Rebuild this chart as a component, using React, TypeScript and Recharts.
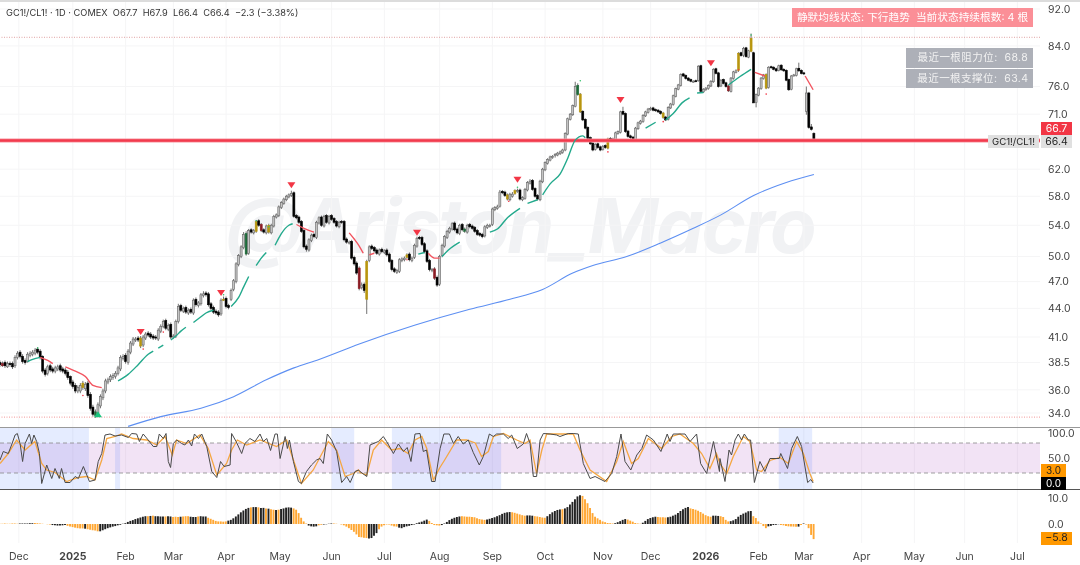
import React from "react";
import {
  Bar,
  CartesianGrid,
  Cell,
  ComposedChart,
  Line,
  ReferenceArea,
  ReferenceLine,
  XAxis,
  YAxis,
} from "recharts";

const closes = [
  38.3, 38.4, 38.2, 38.4, 38.3, 38.1, 39.0, 39.4, 39.1, 38.6,
  38.5, 39.3, 39.4, 39.5, 39.7, 39.5, 39.0, 37.7, 37.4, 38.1,
  37.8, 37.7, 38.0, 38.1, 37.8, 37.7, 37.5, 37.1, 36.6, 36.3,
  35.9, 36.2, 36.4, 36.2, 36.5, 35.5, 34.4, 33.9, 34.1, 34.7,
  35.4, 35.9, 36.8, 36.9, 37.2, 37.3, 37.5, 38.0, 39.0, 39.1,
  38.6, 39.6, 40.4, 40.8, 40.8, 40.7, 40.1, 41.0, 41.3, 41.2,
  41.0, 40.9, 40.9, 41.7, 42.1, 42.6, 41.9, 42.2, 41.0, 41.1,
  42.6, 44.2, 43.8, 44.0, 43.6, 43.8, 43.6, 44.9, 44.4, 44.6,
  45.5, 45.6, 45.5, 44.4, 44.0, 43.6, 43.5, 43.3, 44.9, 45.0,
  44.2, 44.1, 46.0, 47.1, 49.1, 50.1, 51.2, 52.8, 50.3, 53.3,
  53.1, 53.3, 54.5, 54.0, 53.3, 53.1, 53.9, 53.1, 54.0, 55.2,
  55.4, 56.5, 57.1, 57.6, 58.0, 58.2, 58.4, 55.2, 55.0, 54.4,
  53.2, 51.2, 50.9, 52.1, 52.7, 52.5, 54.4, 55.0, 54.0, 55.2,
  54.4, 55.2, 54.8, 54.4, 53.9, 54.4, 54.4, 52.1, 51.8, 51.8,
  49.8, 49.1, 48.0, 46.2, 46.6, 46.0, 49.4, 51.2, 51.0, 50.7,
  50.4, 50.8, 50.6, 50.7, 50.2, 49.4, 48.4, 48.2, 48.3, 49.6,
  49.7, 49.8, 50.2, 49.6, 49.8, 51.4, 52.3, 52.3, 51.5, 50.6,
  49.4, 48.4, 48.4, 47.4, 46.6, 50.0, 51.4, 52.5, 53.2, 53.6,
  54.2, 53.4, 53.0, 54.0, 53.4, 53.2, 54.0, 53.8, 53.6, 53.2,
  52.8, 52.7, 52.5, 53.8, 54.0, 54.0, 56.2, 56.4, 56.5, 58.6,
  58.5, 58.1, 57.6, 58.3, 58.3, 58.8, 58.8, 57.6, 57.8, 59.0,
  60.0, 60.2, 59.0, 58.0, 57.6, 60.2, 62.0, 63.0, 63.5, 63.9,
  64.0, 64.3, 64.5, 64.7, 65.0, 67.7, 70.2, 71.0, 72.5, 76.0,
  74.5, 71.4, 70.0, 68.6, 66.9, 66.0, 65.0, 65.9, 65.4, 65.0,
  65.6, 65.4, 66.8, 66.6, 66.8, 67.8, 68.0, 71.4, 71.0, 68.0,
  67.2, 67.0, 66.8, 68.6, 69.5, 69.8, 70.8, 71.4, 71.9, 72.0,
  71.7, 71.6, 71.4, 71.1, 70.4, 70.0, 72.2, 72.8, 74.3, 75.6,
  76.3, 78.3, 78.0, 77.5, 77.2, 77.0, 77.0, 77.0, 79.9, 75.1,
  75.5, 75.7, 76.2, 77.0, 79.3, 78.5, 76.0, 77.2, 76.6, 76.0,
  75.2, 77.6, 78.8, 79.0, 82.5, 82.0, 83.5, 81.8, 83.0, 85.6,
  73.0, 74.5, 75.7, 77.6, 78.2, 75.7, 79.7, 79.6, 79.3, 79.0,
  80.0, 79.2, 79.0, 77.2, 75.4, 78.0, 78.2, 79.4, 79.0, 78.5,
  78.4, 74.8, 68.7, 68.4, 66.4,
];
const opens = [
  38.5, 38.2, 38.5, 38.1, 38.4, 38.4, 38.2, 39.0, 39.5, 39.1,
  38.7, 38.6, 39.2, 39.3, 39.4, 39.8, 39.6, 39.1, 37.8, 37.5,
  38.2, 37.9, 37.7, 37.9, 38.2, 37.9, 37.8, 37.6, 37.2, 36.7,
  36.4, 35.9, 35.9, 36.6, 36.1, 36.6, 35.6, 34.5, 33.8, 34.0,
  34.6, 35.3, 35.9, 36.7, 36.9, 37.1, 37.2, 37.5, 37.9, 38.9,
  39.2, 38.5, 39.5, 40.3, 40.7, 40.9, 40.9, 40.2, 40.9, 41.4,
  41.3, 41.1, 41.0, 40.8, 41.6, 42.1, 42.7, 41.8, 42.3, 41.0,
  41.1, 42.6, 44.3, 43.7, 44.1, 43.5, 43.9, 43.5, 45.0, 44.3,
  44.5, 45.4, 45.7, 45.6, 44.5, 44.1, 43.7, 43.6, 43.4, 45.0,
  45.1, 44.3, 45.0, 46.1, 47.0, 49.0, 50.0, 51.1, 52.9, 50.4,
  53.4, 53.0, 53.2, 54.6, 54.1, 53.4, 53.0, 54.0, 53.0, 53.9,
  55.1, 55.3, 56.4, 57.0, 57.5, 57.9, 58.1, 58.5, 55.3, 55.1,
  54.5, 53.3, 51.3, 50.8, 52.0, 52.8, 52.4, 54.3, 55.1, 53.9,
  55.3, 54.3, 55.3, 54.9, 54.5, 53.8, 54.5, 54.5, 52.2, 51.7,
  51.9, 49.9, 49.2, 48.6, 46.3, 46.7, 45.0, 49.5, 51.3, 51.1,
  50.8, 50.3, 50.9, 50.5, 50.8, 50.3, 49.5, 48.5, 48.1, 48.2,
  49.5, 49.6, 49.9, 50.3, 49.5, 49.9, 51.3, 52.4, 52.4, 51.6,
  50.7, 49.5, 48.3, 48.5, 47.5, 46.7, 50.1, 51.3, 52.4, 53.1,
  53.5, 54.3, 53.5, 52.9, 54.1, 53.5, 53.1, 54.1, 53.9, 53.7,
  53.3, 52.9, 52.8, 52.6, 53.7, 53.9, 54.1, 56.1, 56.3, 56.6,
  58.7, 58.6, 58.2, 57.5, 58.0, 58.4, 58.7, 58.9, 57.5, 57.7,
  58.9, 59.9, 60.3, 59.1, 58.1, 57.5, 60.1, 61.9, 62.9, 63.4,
  63.8, 64.1, 64.2, 64.4, 64.6, 65.0, 67.6, 70.1, 70.9, 72.4,
  76.2, 74.6, 71.5, 70.1, 68.7, 67.0, 66.1, 65.1, 66.0, 65.5,
  65.1, 65.7, 65.3, 66.9, 66.5, 66.7, 67.7, 67.9, 71.5, 71.1,
  68.1, 67.3, 67.1, 66.7, 68.5, 69.4, 69.7, 70.7, 71.3, 71.8,
  72.1, 71.8, 71.7, 71.5, 71.2, 70.5, 70.1, 72.1, 72.7, 74.2,
  75.5, 76.2, 78.4, 78.1, 77.6, 77.3, 76.9, 77.1, 77.1, 80.0,
  75.0, 75.4, 75.6, 76.1, 76.9, 79.4, 78.6, 76.1, 77.3, 76.7,
  76.1, 75.1, 77.5, 78.7, 79.1, 82.6, 82.1, 83.6, 81.7, 82.9,
  82.6, 73.1, 74.4, 75.6, 77.5, 78.3, 75.8, 79.8, 79.7, 79.4,
  79.1, 80.1, 79.3, 79.1, 77.3, 75.5, 78.1, 78.1, 79.5, 79.1,
  78.6, 71.5, 74.8, 68.8, 67.7,
];
const highs = [
  38.7, 38.6, 38.7, 38.6, 38.6, 38.6, 39.2, 39.6, 39.7, 39.3,
  38.9, 39.5, 39.6, 39.7, 39.9, 40.0, 39.8, 39.2, 38.0, 38.3,
  38.4, 38.1, 38.2, 38.3, 38.4, 38.1, 38.0, 37.8, 37.3, 36.9,
  36.6, 36.4, 36.6, 36.8, 36.7, 36.8, 35.8, 34.7, 34.3, 34.9,
  35.6, 36.1, 37.0, 37.1, 37.4, 37.5, 37.7, 38.2, 39.2, 39.3,
  39.4, 39.8, 40.6, 41.0, 41.0, 41.1, 41.1, 41.2, 41.5, 41.6,
  41.5, 41.3, 41.2, 41.9, 42.3, 42.8, 42.9, 42.4, 42.5, 41.3,
  42.8, 44.5, 44.5, 44.2, 44.3, 44.0, 44.1, 45.1, 45.2, 44.8,
  45.7, 45.9, 45.9, 45.8, 44.7, 44.3, 43.9, 43.8, 45.1, 45.3,
  45.3, 44.5, 46.2, 47.3, 49.3, 50.3, 51.4, 53.1, 53.2, 53.5,
  53.6, 53.5, 54.7, 54.8, 54.3, 53.6, 54.1, 54.2, 54.2, 55.4,
  55.6, 56.7, 57.3, 57.8, 58.2, 58.4, 58.8, 58.7, 55.5, 55.3,
  54.7, 53.5, 51.5, 52.3, 52.9, 53.0, 54.6, 55.2, 55.3, 55.4,
  55.5, 55.4, 55.5, 55.1, 54.7, 54.6, 54.7, 54.7, 52.4, 52.0,
  52.1, 50.1, 49.4, 48.8, 46.9, 46.9, 49.6, 51.4, 51.5, 51.3,
  51.0, 51.0, 51.1, 50.9, 51.0, 50.5, 49.7, 48.7, 48.5, 49.8,
  49.9, 50.0, 50.4, 50.5, 50.0, 51.6, 52.5, 52.6, 52.6, 51.8,
  50.9, 49.7, 48.6, 48.7, 47.7, 50.2, 51.6, 52.7, 53.4, 53.8,
  54.4, 54.5, 53.7, 54.2, 54.3, 53.7, 54.2, 54.3, 54.1, 53.9,
  53.5, 53.1, 53.0, 54.0, 54.2, 54.2, 56.4, 56.6, 56.8, 58.9,
  58.9, 58.8, 58.4, 58.5, 58.6, 59.0, 59.1, 59.1, 58.0, 59.2,
  60.2, 60.5, 60.5, 59.3, 58.3, 60.4, 62.2, 63.2, 63.7, 64.1,
  64.2, 64.5, 64.7, 64.9, 65.2, 67.9, 70.4, 71.2, 72.7, 76.9,
  76.6, 74.8, 71.7, 70.3, 68.9, 67.2, 66.3, 66.1, 66.2, 65.7,
  65.8, 65.9, 67.0, 67.1, 67.0, 68.0, 68.2, 71.6, 72.3, 71.3,
  68.3, 67.5, 67.3, 68.8, 69.7, 70.0, 71.0, 71.6, 72.1, 72.3,
  72.3, 72.0, 71.9, 71.7, 71.4, 70.7, 72.4, 73.0, 74.5, 75.8,
  76.5, 78.5, 78.6, 78.3, 77.8, 77.5, 77.2, 77.3, 80.1, 80.2,
  75.7, 75.9, 76.4, 77.2, 79.5, 79.6, 78.8, 77.4, 77.5, 76.9,
  76.3, 77.8, 79.0, 79.3, 82.7, 82.8, 83.8, 83.8, 83.2, 86.6,
  82.8, 74.7, 75.9, 77.8, 78.4, 78.5, 79.9, 80.0, 79.9, 79.6,
  80.2, 80.3, 79.5, 79.3, 77.5, 78.2, 78.4, 79.6, 80.6, 79.3,
  78.8, 76.0, 75.0, 69.3, 67.9,
];
const lows = [
  38.1, 38.1, 38.0, 38.0, 38.1, 37.9, 38.0, 38.8, 38.9, 38.4,
  38.3, 38.5, 39.0, 39.1, 39.2, 39.3, 38.8, 37.5, 37.2, 37.3,
  37.6, 37.5, 37.5, 37.7, 37.6, 37.5, 37.3, 36.9, 36.4, 36.1,
  35.7, 35.7, 35.7, 36.0, 35.9, 35.3, 34.2, 33.7, 33.6, 33.8,
  34.4, 35.1, 35.7, 36.5, 36.7, 36.9, 37.0, 37.3, 37.7, 38.7,
  38.4, 38.3, 39.3, 40.1, 40.5, 40.5, 39.9, 40.0, 40.7, 41.0,
  40.8, 40.7, 40.7, 40.6, 41.4, 41.9, 41.7, 41.6, 40.8, 40.8,
  40.9, 42.4, 43.6, 43.5, 43.4, 43.3, 43.4, 43.3, 44.2, 44.1,
  44.3, 45.2, 45.3, 44.2, 43.8, 43.4, 43.3, 43.1, 43.2, 44.8,
  44.0, 43.9, 44.8, 45.9, 46.8, 48.8, 49.8, 50.9, 50.1, 50.2,
  52.9, 52.8, 53.0, 53.8, 53.1, 52.9, 52.8, 52.9, 52.8, 53.7,
  54.9, 55.1, 56.2, 56.8, 57.3, 57.7, 57.9, 55.0, 54.8, 54.2,
  53.0, 51.0, 50.6, 50.6, 51.8, 52.3, 52.2, 54.1, 53.8, 53.7,
  54.2, 54.1, 54.6, 54.2, 53.7, 53.6, 54.2, 51.9, 51.6, 51.5,
  49.6, 48.9, 47.8, 46.0, 46.1, 45.7, 43.4, 49.3, 50.8, 50.5,
  50.2, 50.1, 50.4, 50.3, 50.0, 49.2, 48.2, 48.0, 47.9, 48.0,
  49.3, 49.4, 49.7, 49.4, 49.3, 49.7, 51.1, 52.1, 51.3, 50.4,
  49.2, 48.2, 48.1, 47.2, 46.4, 46.5, 49.9, 51.1, 52.2, 52.9,
  53.3, 53.2, 52.8, 52.7, 53.2, 53.0, 52.9, 53.6, 53.4, 53.0,
  52.6, 52.5, 52.3, 52.4, 53.5, 53.7, 53.9, 55.9, 56.1, 56.4,
  58.3, 57.9, 57.4, 57.3, 57.8, 58.2, 58.5, 57.4, 57.3, 57.5,
  58.7, 59.7, 58.8, 57.8, 57.4, 57.3, 59.9, 61.7, 62.7, 63.2,
  63.6, 63.8, 64.0, 64.2, 64.4, 64.8, 67.4, 69.9, 70.7, 72.2,
  74.3, 71.2, 69.8, 68.4, 66.7, 65.8, 64.8, 64.9, 65.2, 64.8,
  64.9, 65.2, 65.1, 66.4, 66.3, 66.5, 67.5, 67.7, 70.8, 67.8,
  67.0, 66.8, 66.6, 66.5, 68.3, 69.2, 69.5, 70.5, 71.1, 71.6,
  71.5, 71.4, 71.2, 70.9, 70.2, 69.8, 69.9, 71.9, 72.5, 74.0,
  75.3, 76.0, 77.8, 77.3, 77.0, 76.8, 76.7, 76.8, 76.9, 74.9,
  74.8, 75.2, 75.4, 75.9, 76.7, 78.3, 75.8, 75.9, 76.4, 75.8,
  75.0, 74.9, 77.3, 78.5, 78.8, 81.8, 81.7, 81.6, 81.5, 82.7,
  73.5, 72.2, 74.2, 75.4, 77.3, 75.5, 75.6, 79.4, 79.1, 78.8,
  78.9, 79.0, 78.8, 77.0, 75.2, 75.3, 77.9, 77.9, 78.8, 78.3,
  78.2, 70.9, 68.5, 68.2, 66.4,
];

const yellowCandles = [33, 56, 89, 102, 107, 146, 162, 202, 205, 231, 242, 264, 294, 299, 305];
const greenCandles = [38, 98, 185, 230];
const redCandles = [1, 104, 143, 173, 290];

const priceTicks = [92, 84, 76, 71, 62, 58, 54, 50, 47, 44, 41, 38.5, 36, 34];
const monthTicks = [7.5, 29, 50, 69, 90, 111.5, 132, 153, 175, 196, 217, 240, 259, 281, 302, 320, 343, 364, 384, 405];
const monthLabels = ["Dec", "2025", "Feb", "Mar", "Apr", "May", "Jun", "Jul", "Aug", "Sep", "Oct", "Nov", "Dec", "2026", "Feb", "Mar", "Apr", "May", "Jun", "Jul"];

const tealSegments = [
  [[11, 38.6], [13, 38.8], [16, 39.0]],
  [[47, 36.8], [51, 37.4], [55, 38.3], [59, 39.3], [61, 39.6]],
  [[63, 39.9], [65, 40.2]],
  [[68, 40.7], [70, 41.1], [72, 41.6], [74, 42.0]],
  [[77, 42.5], [80, 43.1], [82, 43.5], [85, 43.8]],
  [[92, 44.2], [95, 45.2], [97, 46.4], [99, 47.6]],
  [[102, 48.9], [104, 49.8], [106, 50.5]],
  [[109.5, 51.4], [112, 52.9], [115, 54.0], [116.5, 54.2]],
  [[166.5, 50.3], [169, 50.5]],
  [[176, 50.0], [178.5, 50.8], [183, 51.8]],
  [[195, 53.1], [198, 53.5], [202, 55.0], [207, 56.3]],
  [[210, 57.0], [214, 57.5]],
  [[216, 58.2], [219, 59.8], [223, 61.3], [226, 63.7], [229, 66.6], [232, 67.3], [233, 67.0]],
  [[257, 68.6], [261, 69.6]],
  [[265, 70.0], [268, 71.1], [271.5, 73.0], [274.5, 73.9]],
  [[277.5, 74.8], [280, 74.9]],
  [[290, 76.3], [294.6, 77.9], [299, 79.3]],
];
const redSegments = [
  [[16, 39.0], [19, 38.7], [21, 38.4]],
  [[26, 38.1], [30, 37.7], [34, 37.2], [37, 36.4], [40.5, 36.2]],
  [[118, 54.1], [121, 53.6], [125, 53.1]],
  [[139, 53.0], [141, 52.2], [143, 51.3], [144.6, 50.4]],
  [[147, 50.2], [149, 50.4]],
  [[170.5, 50.4], [173, 49.8], [175, 49.8]],
  [[300.5, 78.7], [304.5, 78.0]],
  [[320.5, 78.0], [323.7, 75.4]],
];
const blueLine = [
  [51, 32.9], [64, 33.7], [80, 34.4], [93, 35.4], [106, 36.9], [117, 38.0], [127, 38.8], [143, 40.3],
  [165, 42.2], [187, 43.9], [203, 45.0], [216, 46.1], [228, 48.0], [236, 48.9], [249.5, 50.0], [263, 51.7],
  [276, 53.6], [287, 55.4], [300, 58.1], [313, 60.0], [324, 61.2],
];
const sellMarks = [[56, 41.5], [88, 45.7], [116, 59.6], [166, 53.0], [206, 60.4], [247, 73.5], [283, 80.5]];
const buyMarks = [[39, 33.9]];
const greenDots = [[15, 39.9], [102, 54.6], [107, 53.8], [89, 45.5], [206, 59.3], [231, 77.1], [299, 86.3]];
const redDots = [[33, 35.5], [57, 39.8], [65, 41.5], [162, 49.6], [202.5, 57.3], [242, 64.7], [264, 69.7], [294, 79.2], [305, 74.6]];

const stochK = [
  [0, 46], [1.3, 63], [3.3, 59], [4.6, 76], [6, 96], [6.9, 99], [8, 79], [9, 43], [10, 79], [11.7, 98], [12.6, 79], [13.5, 96], [14.6, 83], [15.7, 59],
  [16.6, -1], [18.6, 36], [20.6, 9], [21.9, 29], [23.6, 9], [24.5, 29], [25.9, 1], [27.9, 1], [29.9, 13], [31.2, 9], [33.2, 33], [35.6, 3], [37.8, 6],
  [39.1, 43], [40.5, 59], [41.8, 96], [43.8, 98], [45.8, 94], [48.4, 96], [51.1, 91], [52.4, 99], [54.4, 98], [55.5, 83], [57, 98], [59, 86], [61, 73], [62.4, 73], [63.4, 98],
  [65, 89], [66.1, 99], [67, 43], [67.9, 31], [69, 79], [70.3, 86], [72.3, 79], [73.6, 76], [75, 86], [76.3, 74], [77.4, 98], [79, 89], [80.3, 98], [82.3, 73], [84.3, 23], [86.3, 11],
  [87.8, 43], [89.2, 33], [91.6, 36], [92.2, 99], [94, 83], [96.2, 59], [97.5, 79], [99.5, 89], [101.5, 83], [103.5, 98], [104.8, 83], [106.2, 89], [107.7, 65], [109.5, 98], [110.4, 98],
  [111.5, 49], [113.5, 93], [114.4, 69], [115.2, 86], [116.8, 43], [118.8, 3], [120, -1], [122, 23], [124, 36], [126, 46], [127.4, 49], [128.7, 39], [130.3, 98], [132, 86], [134, 63], [136, 1], [138, 13], [139.4, 1], [141.3, 23], [142.7, 26],
  [143.3, 23], [146, 13], [147.3, 76], [150.6, 83], [152.6, 93], [153.9, 83], [156.6, 59], [158.6, 78], [160.6, 63], [162.1, 71], [163.6, 43], [165.2, 98], [167.2, 99], [168.5, 63], [169.8, 66], [171.8, 3], [173.2, 3], [175.2, 69],
  [176.7, 98], [178.9, 98], [180.5, 79], [182.4, 93], [184.4, 78], [186.4, 86], [188.4, 61], [190.8, 36], [192.4, 53], [194.8, 98], [196.4, 93], [197.7, 98], [200.4, 98], [202.3, 89], [203.7, 96], [205.9, 69], [208.3, 78], [209.6, 99], [211, 79], [212.3, 13], [213.6, 13], [215, 86], [216.3, 99],
  [219, 98], [221.6, 96], [222.9, 93], [226.2, 99], [228.2, 99], [230.2, 98], [232.2, 39], [234.9, 9], [236.9, 13], [240.8, 3], [243.5, 19], [245.5, 53], [247.2, 98], [248.8, 43], [251.1, 26], [253.5, 56], [255.5, 69], [257.4, 96], [260.1, 86], [263.1, 63], [265.6, 98], [266.7, 83], [268, 98], [272.7, 98], [274.7, 83], [277.3, 98], [278.9, 39], [281.3, 19], [284, 83], [286.4, 23],
  [286.6, 49], [288.6, 3], [290.2, 66], [291.2, 56], [292.6, 86], [293.9, 98], [295.2, 86], [296.3, 98], [297.9, 86], [298.8, 86], [300.3, 1], [302.5, 43], [304.5, 23], [306.5, 49], [310.2, 49], [310.8, 59], [313.5, 29], [315.1, 69], [317.4, 93], [319.1, 73], [321.5, 1], [322.8, 7], [323.7, 0],
];
const stochD = [
  [0, 39], [3.3, 59], [6.6, 86], [10, 66], [13.9, 83], [16.6, 39], [18.6, 26], [21.9, 21], [26.5, 3], [31.2, 11], [34.5, 13], [37.8, 6], [40.5, 46], [42.5, 89], [45.8, 93], [48.4, 98], [53, 89], [58.4, 86], [62.4, 76], [65.7, 93], [68.6, 56], [70.3, 86], [74.3, 79], [79.6, 96], [82.9, 69], [86.3, 16], [90.2, 39], [92.2, 66], [94.5, 86], [98.2, 76], [103.5, 86], [110.1, 73], [114.1, 86], [116.8, 46], [120, -1], [124.7, 26], [130.7, 83], [134, 66], [137.4, 13], [140.7, 19], [142.7, 26],
  [143.3, 21], [146, 16], [148.6, 66], [151.9, 86], [155.9, 66], [159.2, 69], [162.5, 59], [165.2, 86], [167.9, 93], [169.9, 69], [172.5, 6], [175, 30], [177, 46], [181.8, 86], [185.8, 86], [189.2, 80], [191.7, 53], [194.4, 63], [196.4, 93], [200.4, 99], [205.7, 86], [209, 79], [211, 86], [213.6, 19], [215.7, 66], [217.6, 98], [228.2, 98], [230.9, 66], [234.9, 26], [241.5, 3], [245.5, 43], [248.1, 83], [251.4, 39], [254.1, 49], [258.1, 89], [263.4, 69], [267.4, 93], [270.7, 98], [276, 79], [279.3, 59], [282.6, 29], [285.2, 59],
  [286.6, 39], [289.3, 19], [291.9, 53], [295.9, 93], [298.5, 83], [301.2, 26], [303.2, 23], [306.5, 45], [310.5, 51], [313.8, 39], [317.1, 83], [319.8, 59], [322.4, 19], [323.7, 3],
];

const macdHist = [
  0.1, 0.1, 0.2, 0.1, 0.1, 0.2, 0.2, 0.1, 0.2, 0.2, 0.2, 0.2, 0.3, 0.3, 0.4, 0.3,
  0.2, 0.1, 0, -0.1, -0.2, -0.4, -0.5, -0.6, -0.6, -0.5, -0.4,
  -0.7, -1, -1.2, -1.4, -1.6, -1.7, -1.7, -1.8, -2, -2.2, -2.4, -2.5, -2.8,
  -2.8, -2.4, -2, -1.6, -1.3, -1, -0.8, -0.5, -0.3, 0.1, 0.3,
  0.8, 1.2, 1.5, 1.9, 2.2, 2.5, 2.8, 3, 3, 3.1, 3.2, 3, 3, 2.9, 2.9, 2.9, 3, 2.9, 2.7, 2.8,
  2.7, 2.8, 2.9, 3, 3, 2.8, 2.7, 2.7, 2.9, 3, 2.9, 2.9, 2.4, 2, 1.6, 1.2, 1, 1, 0.9, 1,
  1.3, 1.6, 2.2, 2.9, 3.7, 4.5, 5.2, 5.8, 6.2, 6.4, 6.5, 6.5, 6.4, 6.2, 6.2, 6, 5.9, 5.7, 5.5, 5.4,
  5.5, 5.8, 6, 6.3, 6.4, 6.3, 6, 5.5, 4.2, 2.4, 1, 0.2, -0.6, -0.9, -1, -0.9, -0.5, -0.3, -0.2, -0.1,
  0.1, 0.2, 0.2, 0.1, 0, -0.2, -0.5, -1, -1.6, -2.3, -3, -4, -5,
  -5.1, -5.3, -5.4, -5.6, -5.4, -4.5, -3.5, -2, -1, -0.5, -0.2, -0.2, -0.6, -0.9, -1, -1.4, -1.6,
  -1.2, -0.9, -0.7, -0.4, -0.2, 0.3, 0.6, 0.9, 1.3, 1.7, 1.2, 0.4, -0.4, -0.5, -0.6,
  -0.4, 0.2, 0.8, 1.5, 2, 2.4, 2.7, 2.9, 3, 2.9, 2.8, 2.8, 2.7, 2.6, 2.2, 1.9, 1.7, 1.6,
  1.7, 2, 2.3, 2.6, 3, 3.4, 3.9, 4.3, 4.5, 4.6, 4.5, 4.3, 4, 3.7, 3.4, 3.2, 3.3, 3.3, 3.2,
  3, 2.9, 2.7, 2.5, 2.4, 3, 3.8, 4.5, 5, 5.4, 5.6, 5.7, 6, 6.5, 7.5, 8.5, 9.5, 10.6, 11.1,
  10.8, 9.5, 8, 6.2, 4.2, 2.8, 2.2, 1.6, 1, 0.7, 0.4, 0.3, 0.2, 0.3, 0.7, 1.1, 1.6, 1.9,
  1.7, 1.3, 0.9, 0.4, 0.2, 0.1, 0.5, 1.2, 1.9, 2.3, 2.6, 2.8, 2.7, 2.6, 2.6, 2.5,
  2.6, 2.8, 3.2, 3.6, 4.2, 5, 5.7, 6.2, 6.5, 6, 5.8, 5.5, 5.1, 4.6, 4, 3.4, 3, 2.8, 3.2, 3.2, 3.1,
  3, 2.7, 1.6, 1, 1.1, 1.4, 1.9, 2.8, 3.5, 4, 4.4, 4.9, 5, 3, 2.3, 1, 0.2, -0.8, -1.6,
  -0.9, -0.7, -0.4, -0.3, -0.1, -0.4, -0.5, -0.8, -0.9, -1, -1, -1.1, -1, -0.4, 0.2, -0.2, -1.6, -4.2, -5.8,
];
const macdBlackRanges = [
  [8, 13], [21, 26], [34, 34], [40, 58], [60, 60], [62, 65], [67, 68], [72, 72], [76, 78], [80, 82], [91, 99], [101, 102], [104, 105], [107, 107], [110, 110],
  [112, 116], [123, 126], [129, 132], [147, 150], [159, 170], [176, 183], [194, 203], [210, 212], [218, 223], [225, 231], [245, 249], [256, 261], [266, 274],
  [284, 286], [291, 299], [306, 310], [318, 318], [320, 320],
];
const highlightZones = [[0, 35.4], [45.8, 47.8], [132, 141], [156, 199.5], [310, 323.3]];

const rows = closes.map((close, i) => ({
  i,
  open: opens[i],
  close,
  high: highs[i],
  low: lows[i],
  range: [lows[i], highs[i]],
  hist: macdHist[i] ?? 0,
}));

const toPoints = (pts: number[][]) => pts.map(([i, v]) => ({ i, v }));

const xDomain: [number, number] = [0, 414];
const FONT = "Inter, 'Noto Sans CJK SC', sans-serif";
const AXIS_TICK = { fill: "#444", fontSize: 10.5, fontFamily: FONT };

function Candle(props: any) {
  const { x, y, width, height, payload: d, index } = props;
  const cx = x + width / 2;
  const span = Math.log(d.high / d.low) || 1;
  const at = (v: number) => y + (height * Math.log(d.high / v)) / span;
  const top = at(Math.max(d.open, d.close));
  const bottom = at(Math.min(d.open, d.close));
  const up = d.close >= d.open;
  let fill = up ? "#c4c4c4" : "#000";
  if (yellowCandles.includes(index)) fill = "#b8960f";
  if (greenCandles.includes(index)) fill = "#1f6b3a";
  if (redCandles.includes(index)) fill = "#8c1c24";
  return (
    <g>
      <line x1={cx} x2={cx} y1={y} y2={y + height} stroke="#333" strokeWidth={0.7} />
      <rect
        x={cx - 1}
        y={top}
        width={2}
        height={Math.max(bottom - top, 1)}
        fill={fill}
        stroke={fill === "#c4c4c4" ? "#666" : fill}
        strokeWidth={0.6}
      />
    </g>
  );
}

function Triangle({ cx, cy, fill, dir }: any) {
  if (cx == null) return null;
  const d = dir === "down"
    ? `M${cx - 4},${cy - 3}L${cx + 4},${cy - 3}L${cx},${cy + 3}Z`
    : `M${cx - 4},${cy + 3}L${cx + 4},${cy + 3}L${cx},${cy - 3}Z`;
  return <path d={d} fill={fill} />;
}

function TimeTick({ x, y, payload }: any) {
  const label = monthLabels[monthTicks.indexOf(payload.value)];
  const year = label === "2025" || label === "2026";
  return (
    <text x={x} y={y + 9} textAnchor="middle" fontSize={10.5} fontFamily={FONT} fontWeight={year ? 700 : 400} fill="#444">
      {label}
    </text>
  );
}

function Tag({ left, top, width, height, bg, color, text, fontSize = 10.5, letterSpacing = 0 }: any) {
  return (
    <div
      style={{
        position: "absolute",
        left,
        top,
        width,
        height,
        lineHeight: `${height}px`,
        background: bg,
        color,
        fontSize,
        letterSpacing,
        fontFamily: FONT,
        textAlign: "center",
        whiteSpace: "pre",
      }}
    >
      {text}
    </div>
  );
}

const panel = (top: number): React.CSSProperties => ({ position: "absolute", left: 0, top });

export default function App() {
  return (
    <div style={{ position: "absolute", left: 0, top: 0, width: 1080, height: 565, background: "#fff", overflow: "hidden", filter: "blur(0.35px)" }}>
      <div
        style={{
          position: "absolute",
          left: 226,
          top: 170,
          fontSize: 76,
          letterSpacing: -2.6,
          lineHeight: "110px",
          fontStyle: "italic",
          fontWeight: 700,
          fontFamily: "Inter",
          color: "#f1f2f4",
          whiteSpace: "nowrap",
        }}
      >
        @Ariston_Macro
      </div>

      <div style={panel(0)}>
        <ComposedChart width={1080} height={427} data={rows} margin={{ top: 0, right: 0, bottom: 0, left: 0 }}>
          <CartesianGrid stroke="#f5f5f6" verticalValues={monthTicks} horizontalValues={priceTicks} />
          <XAxis dataKey="i" type="number" domain={xDomain} hide allowDataOverflow />
          <YAxis
            orientation="right"
            width={40}
            scale="log"
            domain={[32.85, 94.06]}
            allowDataOverflow
            ticks={priceTicks}
            interval={0}
            tickFormatter={(v: number) => v.toFixed(1)}
            tick={AXIS_TICK}
            axisLine={false}
            tickLine={false}
            tickSize={0}
            tickMargin={8}
          />
          <ReferenceLine y={85.8} stroke="#d98a8a" strokeDasharray="1 1.5" strokeWidth={0.8} />
          <ReferenceLine y={33.66} stroke="#ef7b7b" strokeDasharray="1 1.5" strokeWidth={0.8} />
          <ReferenceLine y={66.55} stroke="#f8939d" strokeWidth={4} />
          <ReferenceLine y={66.55} stroke="#f23b4e" strokeWidth={2.4} />
          <Bar dataKey="range" barSize={2} shape={<Candle />} isAnimationActive={false} />
          {tealSegments.map((seg, k) => (
            <Line key={`t${k}`} type="monotone" data={toPoints(seg)} dataKey="v" stroke="#23a98c" strokeWidth={1.4} dot={false} isAnimationActive={false} />
          ))}
          {redSegments.map((seg, k) => (
            <Line key={`r${k}`} type="monotone" data={toPoints(seg)} dataKey="v" stroke="#f2545f" strokeWidth={1.4} dot={false} isAnimationActive={false} />
          ))}
          <Line type="monotone" data={toPoints(blueLine)} dataKey="v" stroke="#5d8ff2" strokeWidth={1.1} dot={false} isAnimationActive={false} />
          <Line
            data={toPoints(sellMarks)}
            dataKey="v"
            stroke="none"
            dot={(p: any) => <Triangle key={p.index} cx={p.cx} cy={p.cy} fill="#f23645" dir="down" />}
            isAnimationActive={false}
          />
          <Line
            data={toPoints(buyMarks)}
            dataKey="v"
            stroke="none"
            dot={(p: any) => <Triangle key={p.index} cx={p.cx} cy={p.cy} fill="#19c37d" dir="up" />}
            isAnimationActive={false}
          />
          <Line data={toPoints(greenDots)} dataKey="v" stroke="none" dot={{ r: 0.8, fill: "#34c26b", stroke: "none" }} isAnimationActive={false} />
          <Line data={toPoints(redDots)} dataKey="v" stroke="none" dot={{ r: 0.8, fill: "#f23645", stroke: "none" }} isAnimationActive={false} />
        </ComposedChart>
      </div>

      <div style={panel(427)}>
        <ComposedChart width={1080} height={62} data={rows} margin={{ top: 0, right: 0, bottom: 0, left: 0 }}>
          <CartesianGrid stroke="#f5f5f6" verticalValues={monthTicks} horizontal={false} />
          <XAxis dataKey="i" type="number" domain={xDomain} hide allowDataOverflow />
          <YAxis
            orientation="right"
            width={40}
            domain={[-12, 112]}
            ticks={[100, 50]}
            interval={0}
            tickFormatter={(v: number) => v.toFixed(1)}
            tick={AXIS_TICK}
            axisLine={false}
            tickLine={false}
            tickSize={0}
            tickMargin={8}
          />
          <ReferenceArea y1={20} y2={80} fill="#9c27b0" fillOpacity={0.13} stroke="none" />
          {highlightZones.map(([a, b]) => (
            <ReferenceArea key={a} x1={a} x2={b} fill="#2962ff" fillOpacity={0.12} stroke="none" />
          ))}
          <ReferenceLine y={80} stroke="#888" strokeDasharray="4 3" strokeWidth={0.8} />
          <ReferenceLine y={20} stroke="#888" strokeDasharray="4 3" strokeWidth={0.8} />
          <Line data={toPoints(stochD)} dataKey="v" stroke="#f5a742" strokeWidth={1.3} dot={false} isAnimationActive={false} />
          <Line data={toPoints(stochK)} dataKey="v" stroke="#4a4a4a" strokeWidth={1} dot={false} isAnimationActive={false} />
        </ComposedChart>
      </div>

      <div style={panel(489)}>
        <ComposedChart width={1080} height={76} data={rows} margin={{ top: 0, right: 0, bottom: 0, left: 0 }}>
          <CartesianGrid stroke="#f5f5f6" verticalValues={monthTicks} horizontal={false} />
          <XAxis
            dataKey="i"
            type="number"
            domain={xDomain}
            allowDataOverflow
            ticks={monthTicks}
            interval={0}
            height={22}
            axisLine={false}
            tickLine={false}
            tick={<TimeTick />}
          />
          <YAxis
            orientation="right"
            width={40}
            domain={[-7.3, 13.46]}
            ticks={[10, 0]}
            interval={0}
            tickFormatter={(v: number) => v.toFixed(1)}
            tick={AXIS_TICK}
            axisLine={false}
            tickLine={false}
            tickSize={0}
            tickMargin={8}
          />
          <Bar dataKey="hist" barSize={1.9} isAnimationActive={false}>
            {rows.map((r) => (
              <Cell
                key={r.i}
                fill={macdBlackRanges.some(([a, b]) => r.i >= a && r.i <= b) ? "#222" : "#ffa733"}
              />
            ))}
          </Bar>
        </ComposedChart>
      </div>

      <div style={{ position: "absolute", left: 0, top: 0, width: 1080, height: 2, background: "#dcdcdc" }} />
      <div style={{ position: "absolute", left: 0, top: 426.5, width: 1080, height: 1.5, background: "#999" }} />
      <div style={{ position: "absolute", left: 0, top: 488.5, width: 1080, height: 1.5, background: "#555" }} />

      <div style={{ position: "absolute", left: 6, top: 6, fontSize: 9.25, lineHeight: "13px", color: "#333", fontFamily: FONT, whiteSpace: "pre" }}>
        {"GC1!/CL1! · 1D · COMEX  O67.7  H67.9  L66.4  C66.4  −2.3 (−3.38%)"}
      </div>
      <Tag left={792} top={8} width={241} height={19} bg="#fb8f97" color="#fff" fontSize={10.7} text={"静默均线状态: 下行趋势  当前状态持续根数: 4 根"} />
      <Tag left={906} top={48} width={127} height={20} bg="#adb0b8" color="#f2f2f2" fontSize={10.5} letterSpacing={0.45} text={"  最近一根阻力位:  68.8"} />
      <Tag left={906} top={69} width={127} height={19} bg="#adb0b8" color="#f2f2f2" fontSize={10.5} letterSpacing={0.45} text={"  最近一根支撑位:  63.4"} />

      <Tag left={1041} top={122} width={31} height={13} bg="#f23645" color="#fff" text="66.7" />
      <Tag left={1041} top={135} width={31} height={13} bg="#e0e0e0" color="#222" text="66.4" />
      <Tag left={988} top={135} width={51} height={13} bg="#e0e0e0" color="#222" fontSize={9.6} text="GC1!/CL1!" />
      <Tag left={1041} top={464} width={25} height={12.5} bg="#ff9800" color="#222" fontSize={10} text="3.0" />
      <Tag left={1041} top={477} width={25} height={12.5} bg="#000" color="#fff" fontSize={10} text="0.0" />
      <Tag left={1041} top={532} width={31} height={12.5} bg="#ff9800" color="#222" text="−5.8" />
    </div>
  );
}
